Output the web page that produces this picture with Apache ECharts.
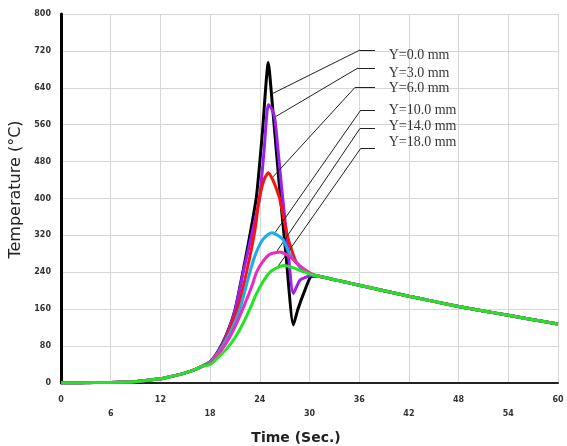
<!DOCTYPE html>
<html>
<head>
<meta charset="utf-8">
<title>Temperature history</title>
<script src="https://cdn.jsdelivr.net/npm/echarts@6/dist/echarts.min.js"></script>
<style>
  html, body { margin: 0; padding: 0; background: #fff; }
  #chart { width: 567px; height: 446px; }
</style>
</head>
<body>
<div id="chart"></div>
<script>
// Thermal cycles at increasing distance Y from the weld line: [time (s), temperature (°C)]
const seriesNames = ['Y=0.0 mm', 'Y=3.0 mm', 'Y=6.0 mm', 'Y=10.0 mm', 'Y=14.0 mm', 'Y=18.0 mm'];

// heating shared by every location
const rampUp = [[0, 0], [2, 0], [4, 1], [6, 1], [8, 2], [10, 5], [12, 9], [13, 13], [14, 17], [15, 22], [16, 28], [17, 36]];

// peak region of each location
const peakY0 = [[18, 46], [19, 70], [20, 106], [21, 158], [22, 245], [22.8, 320], [23.6, 405], [24.3, 540], [25.03, 695],
  [25.4, 628], [26.3, 440], [27.2, 270], [28.05, 126], [28.6, 160], [29.46, 202], [30.2, 231]];
const peakY3 = [[18, 46], [19, 69], [20, 105], [21, 157], [22, 240], [23, 320], [23.96, 400], [24.5, 500], [25.03, 604],
  [25.5, 592], [25.84, 570], [26.6, 430], [27.3, 310], [28.05, 194], [28.85, 223], [29.66, 230], [30.3, 234]];
const peakY6 = [[18, 46], [19, 67], [20, 100], [21, 147], [21.4, 165], [22.4, 240], [23.4, 330], [23.9, 395], [24.5, 440],
  [25.03, 456], [25.5, 443], [26.04, 419], [26.44, 397], [27.25, 325], [27.85, 288], [28.46, 260], [29.3, 244], [30.2, 236]];
const peakY10 = [[18, 45], [19, 66], [20, 95], [21, 132], [21.6, 160], [22.8, 240], [23.5, 280], [24.4, 312], [25.44, 326],
  [26.2, 320], [26.84, 310], [27.65, 278], [28.85, 252], [30.27, 235]];
const peakY14 = [[18, 43], [19, 63], [20, 88], [21, 122], [22, 163], [23, 208], [23.6, 240], [24.4, 264], [25.2, 279],
  [26.44, 284], [27.65, 274], [28.85, 254], [30.3, 236]];
const peakY18 = [[18, 40], [19, 56], [20, 74], [21, 98], [22, 130], [22.8, 160], [23.5, 190], [24.4, 220],
  [25.2, 240], [26.44, 253], [27.0, 255], [28, 250], [29, 243], [30.46, 234]];

// cooling shared by every location
const coolDown = [[31, 232], [32, 228], [33, 224], [34, 220], [36, 212], [39, 200], [42, 188], [45, 177], [48, 166],
  [51, 156], [54, 147], [57, 137], [60, 128]];

const peaks = [peakY0, peakY3, peakY6, peakY10, peakY14, peakY18];

// leader lines: point on the curve -> elbow (time, temperature)
const leaderFrom = [[25.6, 628], [25.96, 578], [25.6, 447], [25.84, 326], [26.04, 285], [26.04, 249]];
const leaderElbow = [[36.1, 722], [35.86, 683], [35.5, 641], [36.2, 592], [36.1, 552], [36.2, 509]];
const leaderEndTime = 37.9;
const labelTime = 39.5;
const labelTemps = [711, 672, 638, 592, 557, 521];

const colors = ['#000000', '#9b1ff0', '#ff1010', '#1aaee8', '#f02ab8', '#22e422'];

const xTicks = { min: 0, max: 60, interval: 6 };
const yTicks = { min: 0, max: 800, interval: 80 };

const chart = echarts.init(document.getElementById('chart'), null, { renderer: 'canvas' });

const tickFont = { fontFamily: 'DejaVu Sans', fontSize: 8, fontWeight: 'bold', color: '#333' };

const curveSeries = peaks.map((peak, i) => ({
  name: seriesNames[i],
  type: 'line',
  data: rampUp.concat(peak, coolDown),
  smooth: 0.2,
  showSymbol: false,
  symbol: 'none',
  lineStyle: { color: colors[i], width: 3 },
  itemStyle: { color: colors[i] },
  z: 2 + i,
  markLine: {
    silent: true,
    symbol: ['none', 'none'],
    animation: false,
    label: { show: false },
    emphasis: { disabled: true },
    lineStyle: { color: '#222', width: 1, type: 'solid' },
    data: [
      [{ coord: leaderFrom[i] }, { coord: leaderElbow[i] }],
      [{ coord: leaderElbow[i] }, { coord: [leaderEndTime, leaderElbow[i][1]] }]
    ]
  }
}));

const labelSeries = {
  type: 'scatter',
  data: labelTemps.map(t => [labelTime, t]),
  symbolSize: 1,
  itemStyle: { color: 'rgba(0,0,0,0)' },
  silent: true,
  z: 10,
  label: {
    show: true,
    position: 'right',
    distance: 0,
    formatter: p => seriesNames[p.dataIndex],
    fontFamily: 'Liberation Serif',
    fontSize: 14,
    color: '#000'
  }
};

chart.setOption({
  animation: false,
  backgroundColor: '#ffffff',
  grid: { left: 61, right: 9, top: 14, bottom: 63, containLabel: false, outerBoundsMode: 'none' },
  xAxis: {
    type: 'value',
    min: xTicks.min,
    max: xTicks.max,
    interval: xTicks.interval,
    name: 'Time (Sec.)',
    nameLocation: 'middle',
    nameGap: 48,
    nameTextStyle: { fontFamily: 'DejaVu Sans', fontSize: 14, fontWeight: 'bold', color: '#222', padding: [0, 27, 0, 0] },
    axisLine: { show: true, onZero: false, lineStyle: { color: '#222', width: 2 } },
    axisTick: { show: false },
    splitLine: { show: true, lineStyle: { color: '#d6d6d6', width: 1 } },
    axisLabel: Object.assign({
      margin: 10,
      lineHeight: 14,
      formatter: v => (Math.round(v / xTicks.interval) % 2 ? '\n' + v : '' + v)
    }, tickFont)
  },
  yAxis: {
    type: 'value',
    min: yTicks.min,
    max: yTicks.max,
    interval: yTicks.interval,
    name: 'Temperature (°C)',
    nameLocation: 'middle',
    nameGap: 29,
    nameRotate: 90,
    nameTextStyle: { fontFamily: 'DejaVu Sans', fontSize: 16, color: '#222', padding: [0, 0, 0, 18] },
    axisLine: { show: true, onZero: false, lineStyle: { color: '#000', width: 3 } },
    axisTick: { show: false },
    splitLine: { show: true, lineStyle: { color: '#d6d6d6', width: 1 } },
    axisLabel: Object.assign({ margin: 10 }, tickFont)
  },
  series: curveSeries.concat([labelSeries])
});
</script>
</body>
</html>
